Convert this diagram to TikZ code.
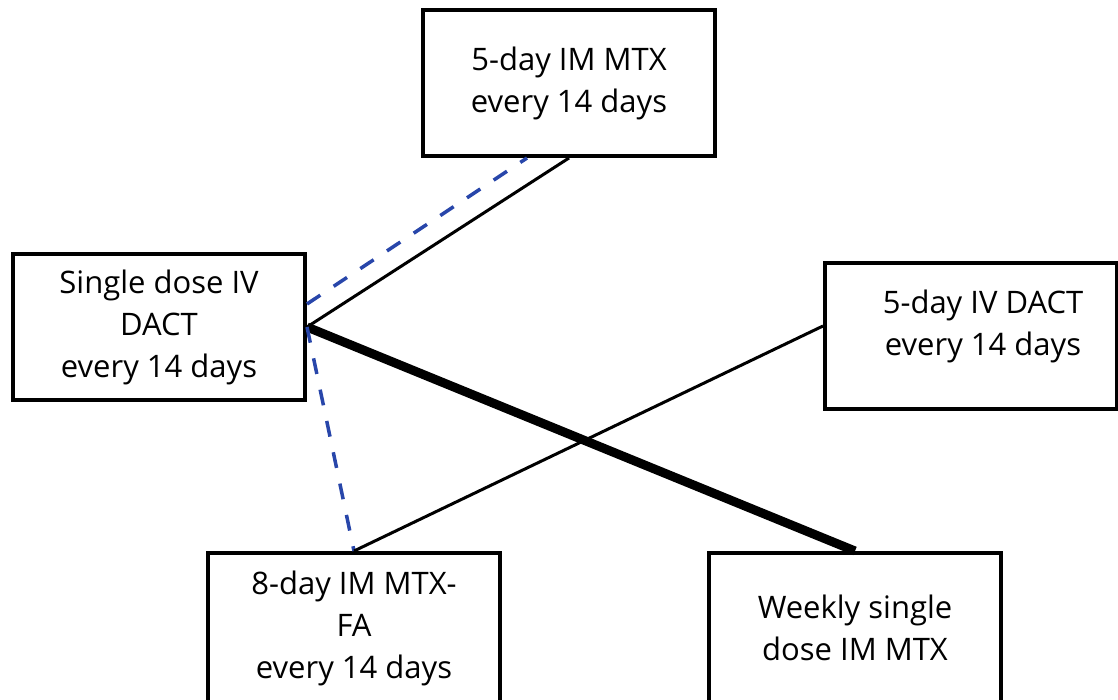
\documentclass[tikz,border=0pt]{standalone}
\usepackage{fontspec}
\setmainfont{Open Sans}
\definecolor{tiretbleu}{RGB}{40,70,170}

\tikzset{boite/.style = {draw, line width = 4pt, minimum width = 292pt, minimum height = 146pt,
                         inner sep = 0pt, align = center, font = \fontsize{31}{42}\selectfont},
         texte/.style = {inner sep = 0pt, align = center, font = \fontsize{31}{42}\selectfont},
         trait/.style = {line width = 3pt},
         gras/.style  = {line width = 9pt},
         tiret/.style = {line width = 3.5pt, tiretbleu, dash pattern = on 16pt off 16pt}
        }

\begin{document}
\begin{tikzpicture}[x=1pt,y=1pt]
\useasboundingbox (0,0) rectangle (1118,700);
\node[boite] at (569,617) (m5) {5-day IM MTX\\every 14 days};
\node[boite] at (159,373) (sd) {Single dose IV\\DACT\\every 14 days};
\node[boite] at (971,364) (d5) {};
\node[texte] at ([xshift=12pt,yshift=10pt]d5.center) (d5t) {5-day IV DACT\\every 14 days};
\node[boite, minimum height = 150pt] at (354,72) (m8) {8-day IM MTX-\\FA\\every 14 days};
\node[boite, minimum height = 150pt] at (855,72) (mw) {Weekly single\\dose IM MTX};
\draw[trait] (sd.east) -- (m5.south);
\draw[tiret] ([yshift=23pt]sd.east) -- ([xshift=-42pt]m5.south);
\draw[gras] (sd.east) -- (mw.north);
\draw[tiret] (sd.east) -- (m8.north);
\draw[trait] (m8.north) -- ([yshift=10pt]d5.west);
\end{tikzpicture}
\end{document}
